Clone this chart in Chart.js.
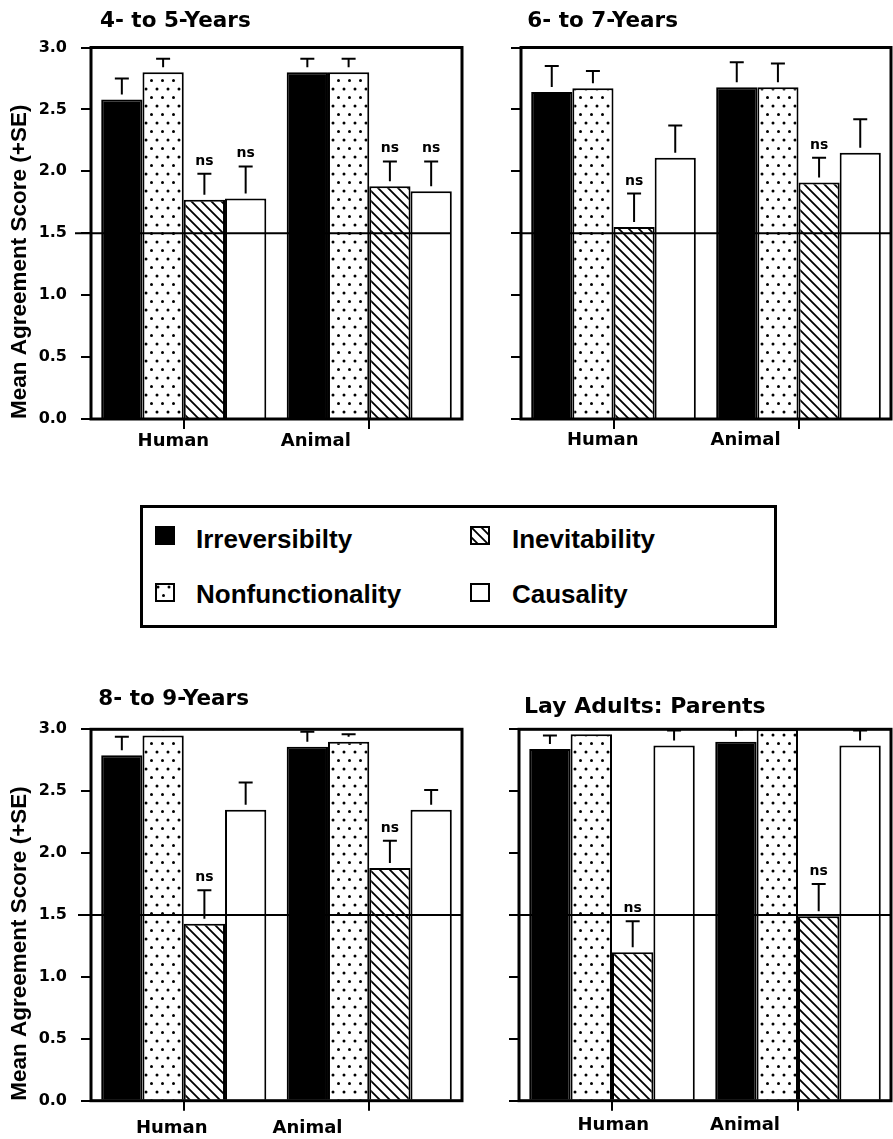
<!DOCTYPE html>
<html>
<head>
<meta charset="utf-8">
<script src="https://cdn.jsdelivr.net/npm/chart.js@4.4.1/dist/chart.umd.min.js"></script>
<style>
html,body{margin:0;padding:0;background:#fff;overflow:hidden;width:893px;height:1139px;}
.panel{position:absolute;}
#legend{position:absolute;left:140px;top:505px;width:637px;height:123px;border:3px solid #000;box-sizing:border-box;background:#fff;}
.lg-sw{position:absolute;display:block;}
.lg-tx{position:absolute;font-family:"Liberation Sans",Arial,sans-serif;font-weight:bold;font-size:26px;line-height:26px;white-space:nowrap;color:#000;}
</style>
</head>
<body>
<div id="p1" class="panel"></div>
<div id="p2" class="panel"></div>
<div id="p3" class="panel"></div>
<div id="p4" class="panel"></div>
<div id="legend">
  <canvas class="lg-sw" id="sw0" width="20" height="19" style="left:12px;top:18px"></canvas>
  <span class="lg-tx" style="left:53px;top:18px">Irreversibilty</span>
  <canvas class="lg-sw" id="sw1" width="20" height="19" style="left:12px;top:75px"></canvas>
  <span class="lg-tx" style="left:53px;top:73px">Nonfunctionality</span>
  <canvas class="lg-sw" id="sw2" width="20" height="19" style="left:327px;top:18px"></canvas>
  <span class="lg-tx" style="left:369px;top:18px">Inevitability</span>
  <canvas class="lg-sw" id="sw3" width="20" height="19" style="left:327px;top:75px"></canvas>
  <span class="lg-tx" style="left:369px;top:73px">Causality</span>
</div>
<script>
// ---------------- DATA ----------------
const categories = ['Human', 'Animal'];
const seriesNames = ['Irreversibilty', 'Nonfunctionality', 'Inevitability', 'Causality'];
const yTickLabels = ['0.0', '0.5', '1.0', '1.5', '2.0', '2.5', '3.0'];
const chanceLevel = 1.5;
const yAxisTitle = 'Mean Agreement Score (+SE)';
const nsText = 'ns';

// 4- to 5-Years
const y45Irreversibility = [2.58, 2.80];
const y45IrreversibilitySE = [0.17, 0.11];
const y45Nonfunctionality = [2.80, 2.80];
const y45NonfunctionalitySE = [0.11, 0.11];
const y45Inevitability = [1.77, 1.88];
const y45InevitabilitySE = [0.21, 0.20];
const y45Causality = [1.78, 1.84];
const y45CausalitySE = [0.26, 0.24];
const y45NS = [[false, false], [false, false], [true, true], [true, true]];

// 6- to 7-Years
const y67Irreversibility = [2.64, 2.68];
const y67IrreversibilitySE = [0.21, 0.20];
const y67Nonfunctionality = [2.67, 2.68];
const y67NonfunctionalitySE = [0.14, 0.19];
const y67Inevitability = [1.55, 1.91];
const y67InevitabilitySE = [0.27, 0.20];
const y67Causality = [2.11, 2.15];
const y67CausalitySE = [0.26, 0.27];
const y67NS = [[false, false], [false, false], [true, true], [false, false]];

// 8- to 9-Years
const y89Irreversibility = [2.79, 2.86];
const y89IrreversibilitySE = [0.15, 0.12];
const y89Nonfunctionality = [2.95, 2.90];
const y89NonfunctionalitySE = [0.05, 0.06];
const y89Inevitability = [1.43, 1.88];
const y89InevitabilitySE = [0.27, 0.22];
const y89Causality = [2.35, 2.35];
const y89CausalitySE = [0.22, 0.16];
const y89NS = [[false, false], [false, false], [true, true], [false, false]];

// Lay Adults: Parents
const parIrreversibility = [2.84, 2.90];
const parIrreversibilitySE = [0.11, 0.10];
const parNonfunctionality = [2.96, 3.00];
const parNonfunctionalitySE = [0.04, 0.00];
const parInevitability = [1.20, 1.49];
const parInevitabilitySE = [0.25, 0.26];
const parCausality = [2.87, 2.87];
const parCausalitySE = [0.12, 0.12];
const parNS = [[false, false], [false, false], [true, true], [false, false]];

// ---------------- PATTERNS ----------------
function makeDots() {
  const c = document.createElement('canvas'); c.width = 11; c.height = 17;
  const x = c.getContext('2d');
  x.fillStyle = '#fff'; x.fillRect(0, 0, 11, 17);
  x.fillStyle = '#000';
  x.beginPath(); x.arc(3, 4, 1.5, 0, Math.PI * 2); x.fill();
  x.beginPath(); x.arc(8.5, 12.5, 1.5, 0, Math.PI * 2); x.fill();
  return c;
}
function makeHatch() {
  const c = document.createElement('canvas'); c.width = 10; c.height = 10;
  const x = c.getContext('2d');
  x.fillStyle = '#fff'; x.fillRect(0, 0, 10, 10);
  x.strokeStyle = '#000'; x.lineWidth = 1.8;
  x.beginPath();
  x.moveTo(-2, -2); x.lineTo(12, 12);
  x.moveTo(-2, 8); x.lineTo(2, 12);
  x.moveTo(8, -2); x.lineTo(12, 2);
  x.stroke();
  return c;
}
const tileCtx = document.createElement('canvas').getContext('2d');
const dotPat = tileCtx.createPattern(makeDots(), 'repeat');
const hatchPat = tileCtx.createPattern(makeHatch(), 'repeat');
const fills = ['#000000', dotPat, hatchPat, '#ffffff'];

// legend swatches
['sw0', 'sw1', 'sw2', 'sw3'].forEach((id, i) => {
  const c = document.getElementById(id); const x = c.getContext('2d');
  x.fillStyle = fills[i]; x.fillRect(0, 0, c.width, c.height);
  x.strokeStyle = '#000'; x.lineWidth = 2; x.strokeRect(1, 1, c.width - 2, c.height - 2);
});

// ---------------- PLUGIN ----------------
const overlay = {
  id: 'overlay',
  afterDatasetsDraw(chart) {
    const cfg = chart.options.plugins.overlay;
    const { ctx, chartArea: a } = chart;
    const y = chart.scales.y;
    ctx.save();
    // chance line
    const ry = y.getPixelForValue(chanceLevel);
    ctx.strokeStyle = '#000'; ctx.lineWidth = 2;
    ctx.beginPath(); ctx.moveTo(a.left - cfg.lineLeft, ry); ctx.lineTo(a.right - cfg.lineTrim, ry); ctx.stroke();
    // error bars
    ctx.save();
    ctx.beginPath(); ctx.rect(a.left, a.top, a.right - a.left, a.bottom - a.top); ctx.clip();
    chart.data.datasets.forEach((ds, i) => {
      chart.getDatasetMeta(i).data.forEach((bar, j) => {
        const se = ds.se[j];
        if (!se) return;
        const cy = y.getPixelForValue(ds.data[j] + se);
        const stemEnd = bar.y - 5;
        ctx.lineWidth = 2;
        ctx.beginPath();
        if (stemEnd > cy) { ctx.moveTo(bar.x, cy); ctx.lineTo(bar.x, stemEnd); }
        ctx.moveTo(bar.x - 7, cy); ctx.lineTo(bar.x + 7, cy);
        ctx.stroke();
      });
    });
    ctx.restore();
    // ns labels
    ctx.fillStyle = '#000';
    ctx.font = 'bold 14px "DejaVu Sans"';
    ctx.textAlign = 'center'; ctx.textBaseline = 'alphabetic';
    chart.data.datasets.forEach((ds, i) => {
      chart.getDatasetMeta(i).data.forEach((bar, j) => {
        if (!ds.ns[j]) return;
        const cy = y.getPixelForValue(ds.data[j] + ds.se[j]);
        ctx.fillText(nsText, bar.x, cy - 9);
      });
    });
    ctx.restore();
  },
  afterDraw(chart) {
    const cfg = chart.options.plugins.overlay;
    const { ctx, chartArea: a } = chart;
    ctx.save();
    ctx.strokeStyle = '#000'; ctx.lineWidth = 3;
    ctx.strokeRect(a.left, a.top, a.right - a.left, a.bottom - a.top);
    ctx.fillStyle = '#000';
    ctx.font = 'bold ' + cfg.titleSize + 'px "DejaVu Sans"';
    ctx.textAlign = 'left'; ctx.textBaseline = 'alphabetic';
    ctx.fillText(cfg.title, cfg.titleX, cfg.titleY);
    ctx.restore();
  }
};

// ---------------- PANELS ----------------
const panelData = [
  { id: 'p1', title: '4- to 5-Years',
    vals: [y45Irreversibility, y45Nonfunctionality, y45Inevitability, y45Causality],
    ses: [y45IrreversibilitySE, y45NonfunctionalitySE, y45InevitabilitySE, y45CausalitySE], ns: y45NS },
  { id: 'p2', title: '6- to 7-Years',
    vals: [y67Irreversibility, y67Nonfunctionality, y67Inevitability, y67Causality],
    ses: [y67IrreversibilitySE, y67NonfunctionalitySE, y67InevitabilitySE, y67CausalitySE], ns: y67NS },
  { id: 'p3', title: '8- to 9-Years',
    vals: [y89Irreversibility, y89Nonfunctionality, y89Inevitability, y89Causality],
    ses: [y89IrreversibilitySE, y89NonfunctionalitySE, y89InevitabilitySE, y89CausalitySE], ns: y89NS },
  { id: 'p4', title: 'Lay Adults: Parents',
    vals: [parIrreversibility, parNonfunctionality, parInevitability, parCausality],
    ses: [parIrreversibilitySE, parNonfunctionalitySE, parInevitabilitySE, parCausalitySE], ns: parNS }
];

// layout (positions / styles only)
const panelLayout = {
  p1: { left: 0, top: 0, width: 470, height: 461, areaLeft: 91, areaTop: 47.5, areaRight: 462, areaBottom: 419,
        yLabels: true, titleX: 100, titleY: 26.7, titleSize: 21.5, labelPos: [0.222, 0.606], labelPad: 2, lineLeft: 16, lineTrim: 12 },
  p2: { left: 440, top: 0, width: 453, height: 461, areaLeft: 521, areaTop: 47.5, areaRight: 891, areaBottom: 419,
        yLabels: false, titleX: 87.3, titleY: 27.3, titleSize: 21.5, labelPos: [0.221, 0.607], labelPad: 1, lineLeft: 0, lineTrim: 0 },
  p3: { left: 0, top: 680, width: 470, height: 459, areaLeft: 91, areaTop: 729.3, areaRight: 462, areaBottom: 1100.7,
        yLabels: true, titleX: 98.3, titleY: 25, titleSize: 21.5, labelPos: [0.2175, 0.5836], labelPad: 7, lineLeft: 13, lineTrim: 0 },
  p4: { left: 440, top: 680, width: 453, height: 459, areaLeft: 519, areaTop: 729.3, areaRight: 891, areaBottom: 1100.7,
        yLabels: false, titleX: 84, titleY: 33.3, titleSize: 22, labelPos: [0.2535, 0.6075], labelPad: 4, lineLeft: 0, lineTrim: 0 }
};

panelData.forEach(p => {
  const L = panelLayout[p.id];
  const div = document.getElementById(p.id);
  div.style.left = L.left + 'px'; div.style.top = L.top + 'px';
  div.style.width = L.width + 'px'; div.style.height = L.height + 'px';
  const canvas = document.createElement('canvas');
  canvas.width = L.width; canvas.height = L.height;
  div.appendChild(canvas);
  const yWidth = L.areaLeft - L.left;
  const xTotal = (L.top + L.height) - L.areaBottom;

  new Chart(canvas, {
    type: 'bar',
    data: {
      labels: categories,
      datasets: seriesNames.map((name, i) => ({
        label: name,
        data: p.vals[i],
        se: p.ses[i],
        ns: p.ns[i],
        backgroundColor: fills[i],
        borderColor: '#000',
        borderWidth: 2,
        xAxisID: 'x',
        yAxisID: 'y'
      }))
    },
    options: {
      responsive: false,
      animation: false,
      devicePixelRatio: 1,
      events: [],
      datasets: { bar: { barPercentage: 1, categoryPercentage: 0.89 } },
      layout: { padding: { top: L.areaTop - L.top, right: (L.left + L.width) - L.areaRight, bottom: 0, left: 0 } },
      plugins: {
        legend: { display: false },
        tooltip: { enabled: false },
        overlay: { title: p.title, titleX: L.titleX, titleY: L.titleY, titleSize: L.titleSize, lineLeft: L.lineLeft, lineTrim: L.lineTrim }
      },
      scales: {
        x: {
          type: 'category',
          offset: true,
          grid: { offset: false, drawOnChartArea: false, drawTicks: true, tickLength: 10, tickWidth: 2, lineWidth: 2, color: '#000', tickColor: '#000' },
          border: { display: false },
          ticks: { display: false },
          afterFit(s) { s.height = 10; }
        },
        x2: {
          type: 'linear',
          axis: 'x',
          position: 'bottom',
          offset: false,
          min: 0, max: 1,
          grid: { display: false, drawTicks: false, offset: false },
          border: { display: false },
          afterBuildTicks(s) { s.ticks = L.labelPos.map(v => ({ value: v })); },
          ticks: {
            autoSkip: false, maxRotation: 0,
            padding: L.labelPad,
            color: '#000',
            font: { family: 'DejaVu Sans', weight: 'bold', size: 18 },
            callback: (v, i) => categories[i]
          },
          afterFit(s) { s.height = xTotal - 10; }
        },
        y: {
          min: 0, max: 3,
          ticks: {
            stepSize: 0.5,
            display: L.yLabels,
            padding: 14,
            color: '#000',
            font: { family: 'DejaVu Sans', weight: 'bold', size: 16 },
            callback: (v, i) => yTickLabels[i]
          },
          grid: { drawOnChartArea: false, drawTicks: true, tickLength: 10, tickWidth: 2, lineWidth: 2, color: '#000', tickColor: '#000' },
          border: { display: false },
          title: {
            display: L.yLabels,
            text: yAxisTitle,
            align: 'start',
            color: '#000',
            font: { family: 'Liberation Sans', weight: 'bold', size: 22.5 },
            padding: { top: 6, bottom: 0 }
          },
          afterFit(s) { s.width = yWidth; }
        }
      }
    },
    plugins: [overlay]
  });
});
</script>
</body>
</html>
